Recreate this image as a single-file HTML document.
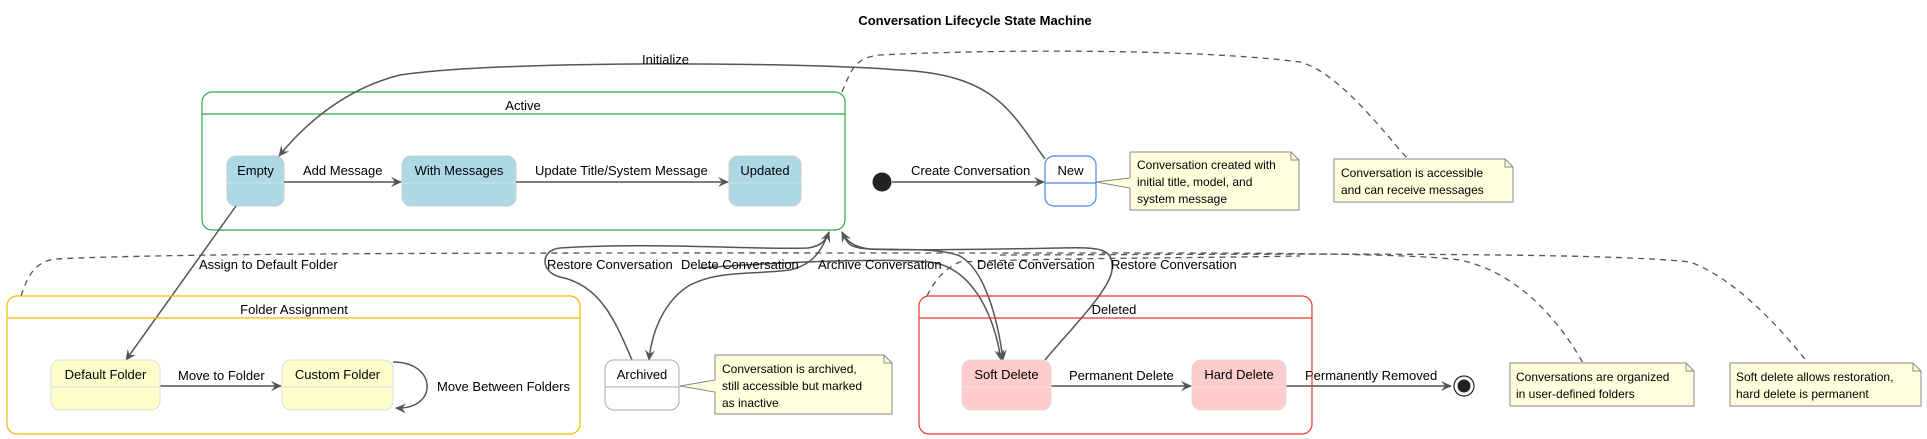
<!DOCTYPE html>
<html><head><meta charset="utf-8"><style>
html,body{margin:0;padding:0;background:#fff;width:1927px;height:439px;overflow:hidden}
svg text{font-family:"Liberation Sans",Arial,sans-serif;font-size:13px;fill:#000}
</style></head><body>
<svg width="1927" height="439" viewBox="0 0 1927 439" xmlns="http://www.w3.org/2000/svg">
<defs>
<marker id="a" markerWidth="12" markerHeight="10" refX="10" refY="5" orient="auto" markerUnits="userSpaceOnUse">
<path d="M0,0 L11,5 L0,10 L4,5 z" fill="#555"/></marker>
</defs>
<text x="975" y="25" text-anchor="middle" style="font-weight:bold">Conversation Lifecycle State Machine</text>

<!-- dashed note links -->
<g fill="none" stroke="#555" stroke-width="1.3" stroke-dasharray="6,5">
<path d="M842,92 C852,68 855,58 880,55 C1000,49 1200,49 1300,62 C1340,72 1390,140 1408,159"/>
<path d="M21,296 C28,275 35,262 55,259 C200,252 600,253 1000,253 C1200,253 1400,252 1460,260 C1530,275 1570,340 1583,363"/>
<path d="M1000,255 C1300,254 1600,252 1690,262 C1740,280 1790,340 1808,363"/>
<path d="M927,296 C935,280 945,268 960,262 C1050,258 1200,258 1300,256"/>
</g>

<!-- Active -->
<rect x="202" y="92" width="643" height="138" rx="10" fill="none" stroke="#2ea84a" stroke-width="1.2"/>
<line x1="202" y1="114" x2="845" y2="114" stroke="#2ea84a" stroke-width="1.2"/>
<text x="523" y="110" text-anchor="middle">Active</text>

<g stroke="#ccc" stroke-width="1">
<rect x="227" y="156" width="57" height="50" rx="9" fill="#add8e6"/>
<rect x="402" y="156" width="114" height="50" rx="9" fill="#add8e6"/>
<rect x="729" y="156" width="72" height="50" rx="9" fill="#add8e6"/>
<line x1="227" y1="183" x2="284" y2="183" stroke="#ddd"/>
<line x1="402" y1="183" x2="516" y2="183" stroke="#ddd"/>
<line x1="729" y1="183" x2="801" y2="183" stroke="#ddd"/>
</g>
<text x="255.5" y="175" text-anchor="middle">Empty</text>
<text x="459" y="175" text-anchor="middle">With Messages</text>
<text x="765" y="175" text-anchor="middle">Updated</text>

<g fill="none" stroke="#555" stroke-width="1.5" marker-end="url(#a)">
<line x1="284" y1="182" x2="401" y2="182"/>
<line x1="516" y1="182" x2="728" y2="182"/>
<line x1="892" y1="182" x2="1044" y2="182"/>
<path d="M1045,159 C1010,110 995,75 900,70 C800,62 500,60 400,75 C340,90 300,130 279,156"/>
<path d="M236,206 L126,360"/>
<line x1="160" y1="386" x2="281" y2="386"/>
<path d="M393,362 C438,362 438,410 396,408"/>
<line x1="1051" y1="386" x2="1191" y2="386"/>
<line x1="1286" y1="386" x2="1451" y2="386"/>
<path d="M632,360 C615,320 600,285 560,277 C540,272 540,250 560,248 C650,242 760,250 808,248 C822,246 826,240 829,232"/>
<path d="M829,232 C820,255 810,265 790,270 C750,275 720,270 690,285 C665,300 652,330 649,360"/>
<path d="M842,232 C848,245 850,248 870,249 C910,250 940,248 960,256 C985,270 998,320 1003,360"/>
<path d="M700,268 C780,262 880,258 930,262 C975,268 995,320 1001,360"/>
<path d="M1045,360 C1070,330 1110,290 1112,270 C1114,248 1100,247 1060,248 C1000,249 900,251 870,249 C852,247 846,240 842,232"/>
</g>
<text x="303" y="175">Add Message</text>
<text x="535" y="175">Update Title/System Message</text>
<text x="911" y="175">Create Conversation</text>
<text x="642" y="64">Initialize</text>
<text x="199" y="269">Assign to Default Folder</text>
<text x="178" y="380">Move to Folder</text>
<text x="437" y="391">Move Between Folders</text>
<text x="547" y="269">Restore Conversation</text>
<text x="681" y="269">Delete Conversation</text>
<text x="818" y="269">Archive Conversation</text>
<text x="977" y="269">Delete Conversation</text>
<text x="1111" y="269">Restore Conversation</text>
<text x="1069" y="380">Permanent Delete</text>
<text x="1305" y="380">Permanently Removed</text>

<circle cx="882" cy="182" r="9.5" fill="#222"/>

<rect x="1045" y="156" width="51" height="50" rx="9" fill="#fff" stroke="#4a86e8" stroke-width="1.2"/>
<line x1="1045" y1="183" x2="1096" y2="183" stroke="#4a86e8" stroke-width="1.2"/>
<text x="1070.5" y="175" text-anchor="middle">New</text>

<g fill="#ffffdd" stroke="#888" stroke-width="1">
<path d="M1130,152 L1291,152 L1299,160 L1299,210 L1130,210 L1130,188 L1096,182 L1130,178 z"/>
<path d="M1291,152 L1291,160 L1299,160" fill="none"/>
<path d="M1334,159 L1505,159 L1513,167 L1513,202 L1334,202 z"/>
<path d="M1505,159 L1505,167 L1513,167" fill="none"/>
<path d="M715,355 L884,355 L892,363 L892,414 L715,414 L715,392 L680,386 L715,380 z"/>
<path d="M884,355 L884,363 L892,363" fill="none"/>
<path d="M1510,363 L1686,363 L1694,371 L1694,406 L1510,406 z"/>
<path d="M1686,363 L1686,371 L1694,371" fill="none"/>
<path d="M1730,363 L1913,363 L1921,371 L1921,406 L1730,406 z"/>
<path d="M1913,363 L1913,371 L1921,371" fill="none"/>
</g>
<text x="1137" y="169" style="font-size:12px">Conversation created with</text>
<text x="1137" y="186" style="font-size:12px">initial title, model, and</text>
<text x="1137" y="203" style="font-size:12px">system message</text>
<text x="1341" y="177" style="font-size:12px">Conversation is accessible</text>
<text x="1341" y="194" style="font-size:12px">and can receive messages</text>
<text x="722" y="373" style="font-size:12px">Conversation is archived,</text>
<text x="722" y="390" style="font-size:12px">still accessible but marked</text>
<text x="722" y="407" style="font-size:12px">as inactive</text>
<text x="1516" y="381" style="font-size:12px">Conversations are organized</text>
<text x="1516" y="398" style="font-size:12px">in user-defined folders</text>
<text x="1736" y="381" style="font-size:12px">Soft delete allows restoration,</text>
<text x="1736" y="398" style="font-size:12px">hard delete is permanent</text>

<rect x="7" y="296" width="573" height="138" rx="10" fill="none" stroke="#f5b800" stroke-width="1.2"/>
<line x1="7" y1="318" x2="580" y2="318" stroke="#f5b800" stroke-width="1.2"/>
<text x="294" y="314" text-anchor="middle">Folder Assignment</text>
<g stroke="#ddd" stroke-width="1">
<rect x="51" y="360" width="109" height="50" rx="9" fill="#fefecd"/>
<rect x="282" y="360" width="111" height="50" rx="9" fill="#fefecd"/>
<line x1="51" y1="387" x2="160" y2="387"/>
<line x1="282" y1="387" x2="393" y2="387"/>
</g>
<text x="105.5" y="379" text-anchor="middle">Default Folder</text>
<text x="337.5" y="379" text-anchor="middle">Custom Folder</text>

<rect x="605" y="360" width="74" height="50" rx="9" fill="#fff" stroke="#aaa" stroke-width="1"/>
<line x1="605" y1="387" x2="679" y2="387" stroke="#aaa"/>
<text x="642" y="379" text-anchor="middle">Archived</text>

<rect x="919" y="296" width="393" height="138" rx="10" fill="none" stroke="#e8382c" stroke-width="1.2"/>
<line x1="919" y1="318" x2="1312" y2="318" stroke="#e8382c" stroke-width="1.2"/>
<text x="1114" y="314" text-anchor="middle">Deleted</text>
<g stroke="#ddd" stroke-width="1">
<rect x="962" y="360" width="89" height="50" rx="9" fill="#ffcccc"/>
<rect x="1192" y="360" width="94" height="50" rx="9" fill="#ffcccc"/>
<line x1="962" y1="387" x2="1051" y2="387" stroke="#fdd"/>
<line x1="1192" y1="387" x2="1286" y2="387" stroke="#fdd"/>
</g>
<text x="1006.5" y="379" text-anchor="middle">Soft Delete</text>
<text x="1239" y="379" text-anchor="middle">Hard Delete</text>

<circle cx="1464" cy="386" r="10" fill="#fff" stroke="#222" stroke-width="1.2"/>
<circle cx="1464" cy="386" r="6.5" fill="#222"/>
</svg>
</body></html>
